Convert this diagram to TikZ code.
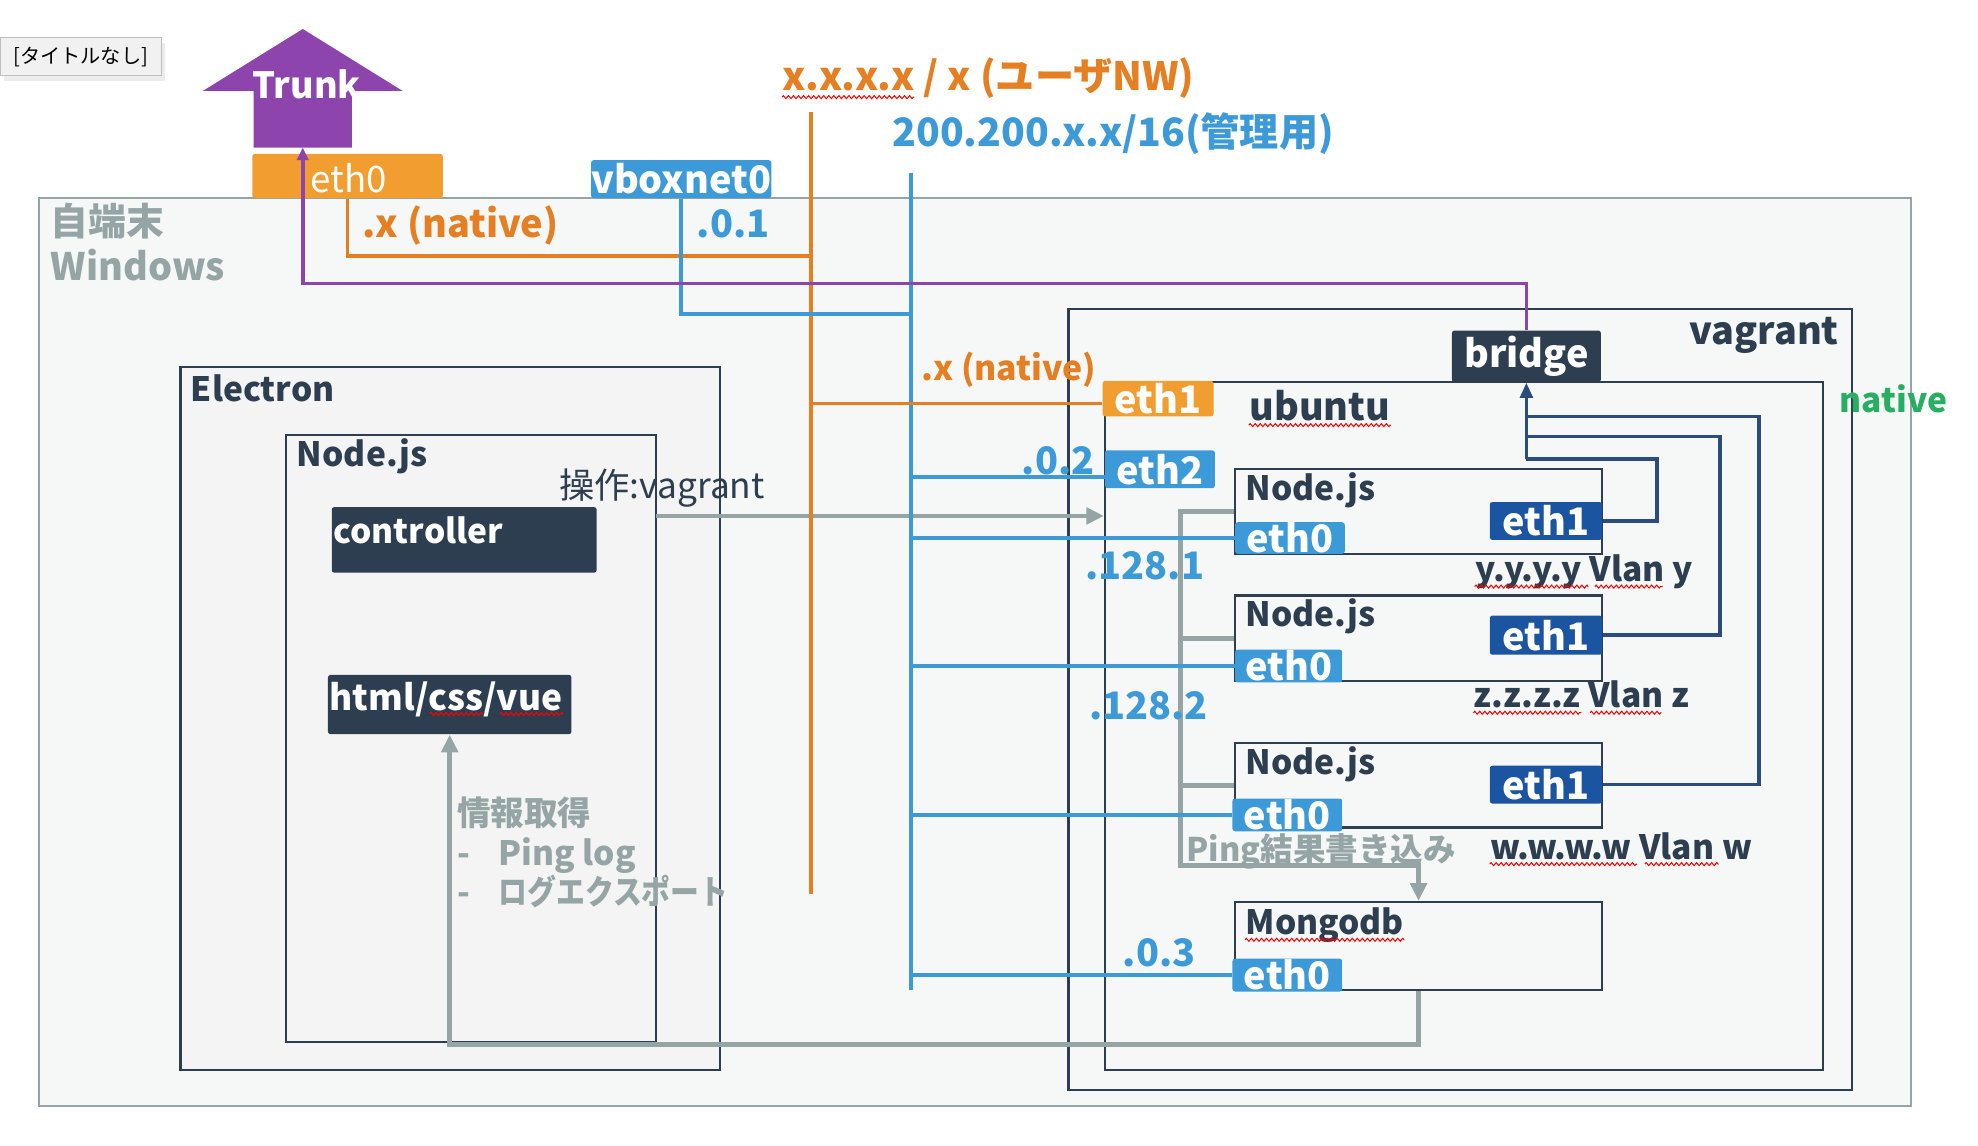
\documentclass[tikz,border=0pt]{standalone}
\usepackage{fontspec}
\setmainfont{Noto Sans CJK JP}
\usetikzlibrary{arrows.meta}
\usetikzlibrary{fit}
\usetikzlibrary{calc}
\usetikzlibrary{shadows}
\usetikzlibrary{decorations.pathmorphing}

\definecolor{trunkpurple}{HTML}{8E44AD}
\definecolor{ethorange}{HTML}{F29D2F}
\definecolor{netorange}{HTML}{E67E22}
\definecolor{netblue}{HTML}{3D9AD9}
\definecolor{boxdark}{HTML}{2C3E50}
\definecolor{linegray}{HTML}{95A5A6}
\definecolor{vlanblue}{HTML}{1B54A1}
\definecolor{vlanline}{HTML}{2A4D7E}
\definecolor{nativegreen}{HTML}{27AE60}
\definecolor{winbg}{HTML}{F6F8F8}
\definecolor{appbg}{HTML}{F4F4F4}
\definecolor{tabgray}{HTML}{F1F1F1}

\newcommand{\lblfont}{\bfseries\fontsize{15}{16}\selectfont}
\newcommand{\namefont}{\bfseries\fontsize{13.3}{15}\selectfont}
\newcommand{\titlefont}{\bfseries\fontsize{15.5}{18}\selectfont}
\newcommand{\plainfont}{\fontsize{14}{16}\selectfont}

\tikzset{
	frame/.style={draw=boxdark,line width=0.9pt,inner sep=0pt},
	darkbox/.style={fill=boxdark,rounded corners=1pt,inner sep=0pt},
	ifbox/.style={inner sep=0pt,rounded corners=1pt,text=white,font=\lblfont},
	txt/.style={inner sep=0pt,anchor=base west,font=\lblfont},
	boxname/.style={inner sep=0pt,anchor=base west,font=\namefont},
	usernet/.style={draw=netorange,line width=1.4pt},
	mgmtnet/.style={draw=netblue,line width=1.4pt},
	vlannet/.style={draw=vlanline,line width=1.4pt},
	trunknet/.style={draw=trunkpurple,line width=1.4pt},
	flow/.style={draw=linegray,line width=1.8pt},
	spell/.style={draw=red,line width=0.4pt,decorate,decoration={zigzag,segment length=2pt,amplitude=0.6pt}}
}

\begin{document}
\begin{tikzpicture}[x=0.5pt,y=-0.5pt]
	\useasboundingbox (0,0) rectangle (1568,908);
	\node[fill=tabgray,draw=black!25,line width=0.4pt,minimum width=64pt,minimum height=15pt,inner sep=0pt,drop shadow={opacity=0.15,shadow xshift=1.5pt,shadow yshift=-2pt},font=\fontsize{8}{9}\selectfont] (tab) at (64,45) {[タイトルなし]};
	\node[draw=linegray,fill=winbg,line width=0.9pt,inner sep=0pt,fit={(31,157)(1515,877)}] (win) {};
	\node[frame,fill=appbg,fit={(143,291)(571,848)}] (electron) {};
	\node[frame,fill=appbg,fit={(227,345)(520,826)}] (nodejs) {};
	\node[darkbox,fit={(263,402)(473,454)}] (controller) {};
	\node[darkbox,fit={(260,535)(453,582)}] (html) {};
	\node[frame,fit={(847,245)(1468,864)}] (vagrant) {};
	\node[frame,fit={(876,303)(1445,848)}] (ubuntu) {};
	\node[frame,fit={(979,372)(1270,439)}] (app1) {};
	\node[frame,fit={(979,472)(1270,540)}] (app2) {};
	\node[frame,fit={(979,589)(1270,656)}] (app3) {};
	\node[frame,fit={(979,715)(1270,785)}] (mongo) {};

	\coordinate (opfrom) at (520,409);
	\coordinate (pingbend) at (936,686);
	\draw[flow,-{Triangle[length=7pt,width=6.5pt]}] (opfrom) -- (opfrom -| ubuntu.west);
	\draw[flow,-{Triangle[length=7pt,width=6.5pt]}] (app1.west) -| (pingbend) -| (mongo.north);
	\draw[flow] (app2.west) -- (app2.west -| pingbend);
	\draw[flow] (app3.west) -- (app3.west -| pingbend);
	\draw[flow,-{Triangle[length=7pt,width=6.5pt]}] (mongo.south) -- ++(0,42) -| (html.south);

	\coordinate (ubtop) at (643,89);
	\coordinate (ubbot) at (643,709);
	\coordinate (ub1) at (643,203);
	\coordinate (ub2) at (643,320);
	\coordinate (mbtop) at (722,137);
	\coordinate (mbbot) at (722,785);
	\coordinate (mb1) at (722,249);
	\coordinate (mb2) at (722,378);
	\draw[usernet] (ubtop) -- (ubbot);
	\draw[mgmtnet] (mbtop) -- (mbbot);

	\fill[trunkpurple] (161,72) -- (240,23) -- (319,72) -- (279,72) -- (279,117) -- (201,117) -- (201,72) -- cycle;
	\coordinate (trunkfoot) at (240,117);
	\node[ifbox,fill=ethorange,fit={(200,122)(351,157)}] (hosteth) {};
	\node[ifbox,fill=netblue,minimum width=70pt,minimum height=15pt] (vbox) at (540,142) {vboxnet0};
	\node[ifbox,fill=ethorange,minimum width=44pt,minimum height=14pt] (vmeth1) at (918,316) {eth1};
	\node[ifbox,fill=netblue,minimum width=43.5pt,minimum height=15pt] (vmeth2) at (919.5,372) {eth2};
	\node[ifbox,fill=boxdark,minimum width=59pt,minimum height=20.5pt] (bridge) at (1210,282.5) {bridge};
	\node[ifbox,fill=netblue,minimum width=43.5pt,minimum height=12.5pt] (app1eth0) at (1022.5,426.5) {eth0};
	\node[ifbox,fill=vlanblue,minimum width=44.5pt,minimum height=15pt] (app1eth1) at (1225.5,413) {eth1};
	\node[ifbox,fill=netblue,minimum width=42.5pt,minimum height=13pt] (app2eth0) at (1021.5,528) {eth0};
	\node[ifbox,fill=vlanblue,minimum width=44.5pt,minimum height=15.5pt] (app2eth1) at (1225.5,503.5) {eth1};
	\node[ifbox,fill=netblue,minimum width=43.5pt,minimum height=13pt] (app3eth0) at (1020.5,646) {eth0};
	\node[ifbox,fill=vlanblue,minimum width=44.5pt,minimum height=15pt] (app3eth1) at (1225.5,622) {eth1};
	\node[ifbox,fill=netblue,minimum width=43.5pt,minimum height=13pt] (mongoeth0) at (1020.5,773) {eth0};

	\draw[usernet] (hosteth.south) |- (ub1);
	\draw[usernet] (ub2) -- (ub2 -| vmeth1.west);
	\draw[mgmtnet] (vbox.south) |- (mb1);
	\draw[mgmtnet] (mb2) -- (mb2 -| vmeth2.west);
	\draw[mgmtnet] (mbtop |- app1eth0.west) -- (app1eth0.west);
	\draw[mgmtnet] (mbtop |- app2eth0.west) -- (app2eth0.west);
	\draw[mgmtnet] (mbtop |- app3eth0.west) -- (app3eth0.west);
	\draw[mgmtnet] (mbtop |- mongoeth0.west) -- (mongoeth0.west);

	\coordinate (joiny) at (1210,364);
	\coordinate (joinz) at (1210,346);
	\coordinate (joinw) at (1210,330);
	\draw[vlannet] (app1eth1.east) -- ++(43,0) |- (joiny);
	\draw[vlannet] (app2eth1.east) -- ++(93,0) |- (joinz);
	\draw[vlannet] (app3eth1.east) -- ++(124,0) |- (joinw);
	\draw[vlannet,-{Triangle[length=6pt,width=5pt]}] (joiny) -- (bridge.south);
	\draw[trunknet,-{Triangle[length=5pt,width=4.5pt]}] (bridge.north) -- ++(0,-37) -| (trunkfoot);

	\node[inner sep=0pt,text=white,font=\bfseries\fontsize{14.3}{16}\selectfont] (trunk) at (243,67) {Trunk};
	\node[txt,text=white,font=\fontsize{14.5}{15}\selectfont] (hostethlbl) at (246,153) {eth0};
	\node[txt,text=linegray,font=\bfseries\fontsize{15}{17}\selectfont] (winname) at (40,187) {自端末};
	\node[txt,text=linegray,font=\bfseries\fontsize{15}{17}\selectfont] (winos) at (40,222) {Windows};
	\node[txt,text=netorange,font=\titlefont] (usertitle) at (620,72) {x.x.x.x / x (ユーザNW)};
	\node[txt,text=netblue,font=\titlefont] (mgmttitle) at (707,116) {200.200.x.x/16(管理用)};
	\node[txt,text=netorange] (hostnative) at (287,188) {.x (native)};
	\node[txt,text=netblue] (hostip) at (552,188) {.0.1};
	\node[boxname,text=boxdark] (electronlbl) at (151,318) {Electron};
	\node[boxname,text=boxdark] (nodejslbl) at (235,370) {Node.js};
	\node[boxname,text=white] (controllerlbl) at (264,431) {controller};
	\node[boxname,text=white,font=\bfseries\fontsize{14}{15}\selectfont] (htmllbl) at (261,563) {html/css/vue};
	\node[txt,text=boxdark,font=\plainfont] (oplbl) at (443,395) {操作:vagrant};
	\node[boxname,text=linegray] (infolbl) at (362,654) {情報取得};
	\node[boxname,text=linegray] (pinglog) at (362,686) {-\hspace{0.85em}Ping log};
	\node[boxname,text=linegray] (exportlog) at (362,717) {-\hspace{0.85em}\scalebox{0.86}[1]{ログエクスポート}};
	\node[txt,text=boxdark,anchor=base east] (vagrantlbl) at (1458,273) {vagrant};
	\node[txt,text=boxdark] (ubuntulbl) at (990,333) {ubuntu};
	\node[txt,text=netorange,font=\bfseries\fontsize{13.4}{15}\selectfont] (vmnative) at (730,302) {.x (native)};
	\node[txt,text=netblue,anchor=base east] (vmip) at (868,376) {.0.2};
	\node[boxname,text=nativegreen] (nativelbl) at (1458,327) {native};
	\node[boxname,text=boxdark] (app1lbl) at (987,397) {Node.js};
	\node[boxname,text=boxdark] (app2lbl) at (987,497) {Node.js};
	\node[boxname,text=boxdark] (app3lbl) at (987,614) {Node.js};
	\node[boxname,text=boxdark] (mongolbl) at (987,741) {Mongodb};
	\node[txt,text=netblue] (app1ip) at (860,459) {.128.1};
	\node[txt,text=netblue] (app2ip) at (863,570) {.128.2};
	\node[txt,text=netblue,anchor=base east] (mongoip) at (948,766) {.0.3};
	\node[boxname,text=boxdark] (vlanylbl) at (1169,461) {y.y.y.y Vlan y};
	\node[boxname,text=boxdark] (vlanzlbl) at (1168,561) {z.z.z.z Vlan z};
	\node[boxname,text=boxdark] (vlanwlbl) at (1181,681) {w.w.w.w Vlan w};
	\node[boxname,text=linegray,font=\bfseries\fontsize{12.9}{15}\selectfont] (pingwrite) at (940,683) {Ping結果書き込み};

	\draw[spell] ($(usertitle.base west)+(0,5)$) -- ($(usertitle.base west)!.32!(usertitle.base east)+(0,5)$);
	\draw[spell] ($(ubuntulbl.base west)+(0,4)$) -- ($(ubuntulbl.base east)+(0,4)$);
	\draw[spell] ($(mongolbl.base west)+(0,4)$) -- ($(mongolbl.base east)+(0,4)$);
	\draw[spell] ($(htmllbl.base west)!.43!(htmllbl.base east)+(0,3)$) -- ($(htmllbl.base west)!.66!(htmllbl.base east)+(0,3)$);
	\draw[spell] ($(htmllbl.base west)!.73!(htmllbl.base east)+(0,3)$) -- ($(htmllbl.base east)+(0,3)$);
	\draw[spell] ($(vlanylbl.base west)+(0,4)$) -- ($(vlanylbl.base west)!.52!(vlanylbl.base east)+(0,4)$);
	\draw[spell] ($(vlanylbl.base west)!.55!(vlanylbl.base east)+(0,4)$) -- ($(vlanylbl.base west)!.86!(vlanylbl.base east)+(0,4)$);
	\draw[spell] ($(vlanzlbl.base west)+(0,4)$) -- ($(vlanzlbl.base west)!.5!(vlanzlbl.base east)+(0,4)$);
	\draw[spell] ($(vlanzlbl.base west)!.54!(vlanzlbl.base east)+(0,4)$) -- ($(vlanzlbl.base west)!.87!(vlanzlbl.base east)+(0,4)$);
	\draw[spell] ($(vlanwlbl.base west)+(0,4)$) -- ($(vlanwlbl.base west)!.56!(vlanwlbl.base east)+(0,4)$);
	\draw[spell] ($(vlanwlbl.base west)!.59!(vlanwlbl.base east)+(0,4)$) -- ($(vlanwlbl.base west)!.87!(vlanwlbl.base east)+(0,4)$);
\end{tikzpicture}
\end{document}
